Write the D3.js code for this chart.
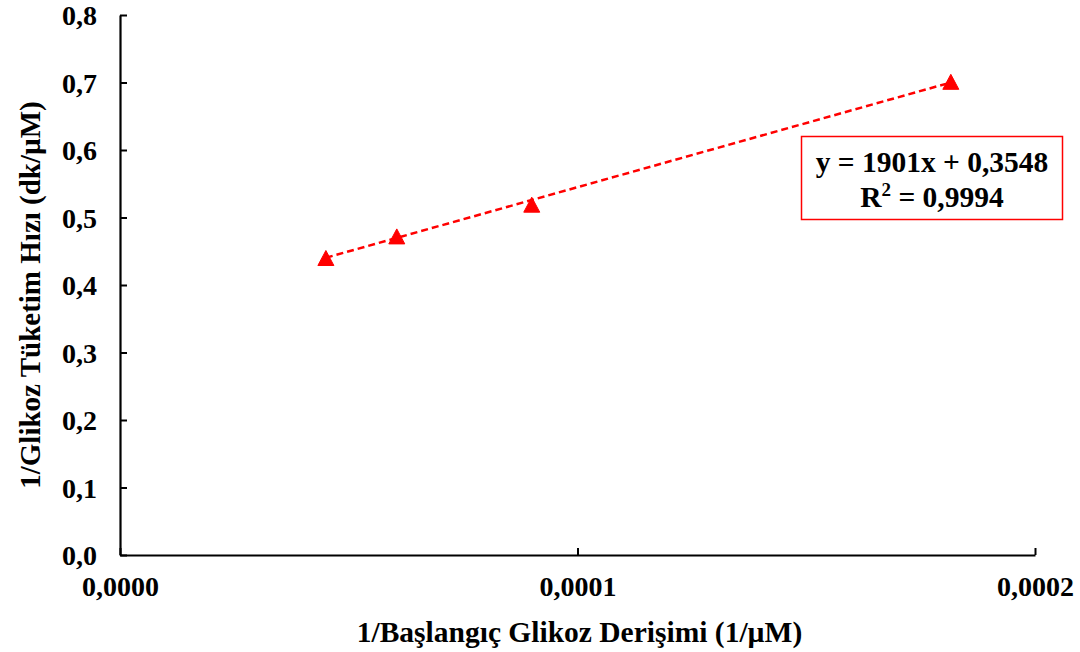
<!DOCTYPE html>
<html>
<head>
<meta charset="utf-8">
<script src="https://cdn.jsdelivr.net/npm/d3@7"></script>
<style>
  html, body { margin: 0; padding: 0; background: #fff; }
  svg text { font-family: "Liberation Serif", "Times New Roman", serif; font-weight: bold; fill: #000; }
</style>
</head>
<body>
<svg id="chart" width="1080" height="652"></svg>
<script>
// Reciprocal initial glucose concentration (1/µM) and reciprocal consumption rate (dk/µM)
const invConcentration = [0.0000450, 0.0000605, 0.0000900, 0.0001816];
const invRate = [0.440, 0.472, 0.519, 0.701];

// Linear fit reported for the data
const fitSlope = 1901;
const fitIntercept = 0.3548;
const fitR2 = "0,9994";

const xTicks = [0, 0.0001, 0.0002];
const yTicks = [0, 0.1, 0.2, 0.3, 0.4, 0.5, 0.6, 0.7, 0.8];

const xTitle = "1/Başlangıç Glikoz Derişimi (1/µM)";
const yTitle = "1/Glikoz Tüketim Hızı (dk/µM)";

const svg = d3.select("#chart");
const margin = { left: 120, right: 45, top: 15, bottom: 97 };
const W = 1080, H = 652;

const x = d3.scaleLinear().domain([0, 0.0002]).range([margin.left, W - margin.right]);
const y = d3.scaleLinear().domain([0, 0.8]).range([H - margin.bottom, margin.top]);

const fmt = (d, n) => d.toFixed(n).replace(".", ",");

// Axes with inward ticks
const xAxis = svg.append("g")
  .attr("transform", `translate(0,${y(0)})`)
  .call(d3.axisBottom(x).tickValues(xTicks).tickSize(-7).tickSizeOuter(0).tickFormat(d => fmt(d, 4)));
const yAxis = svg.append("g")
  .attr("transform", `translate(${x(0)},0)`)
  .call(d3.axisLeft(y).tickValues(yTicks).tickSize(-7).tickSizeOuter(0).tickFormat(d => fmt(d, 1)));

[xAxis, yAxis].forEach(g => {
  g.attr("font-size", null).attr("font-family", null);
  g.selectAll(".domain").attr("stroke", "#000").attr("stroke-width", 2.2);
  g.selectAll(".tick line").attr("stroke", "#000").attr("stroke-width", 2);
  g.selectAll(".tick text").style("font-size", "28px").attr("fill", "#000");
});
xAxis.selectAll(".tick text").attr("dy", 0).attr("y", 41);
yAxis.selectAll(".tick text").attr("x", -23).attr("dy", "0.35em");

// Axis titles
svg.append("text")
  .attr("x", x(0.0001) + 2).attr("y", 642)
  .attr("text-anchor", "middle")
  .style("font-size", "29.5px")
  .text(xTitle);
svg.append("text")
  .attr("transform", `translate(40,295) rotate(-90)`)
  .attr("text-anchor", "middle")
  .style("font-size", "29px")
  .text(yTitle);

// Trendline over the data range
const xMin = d3.min(invConcentration), xMax = d3.max(invConcentration);
svg.append("line")
  .attr("x1", x(xMin)).attr("y1", y(fitSlope * xMin + fitIntercept))
  .attr("x2", x(xMax)).attr("y2", y(fitSlope * xMax + fitIntercept))
  .attr("stroke", "#ff0000")
  .attr("stroke-width", 2.5)
  .attr("stroke-dasharray", "7,4");

// Triangle markers, centred on their bounding box
const triW = 16, triH = 15;
const triPath = `M0,${-triH / 2}L${triW / 2},${triH / 2}L${-triW / 2},${triH / 2}Z`;
svg.append("g").selectAll("path")
  .data(invConcentration.map((v, i) => [v, invRate[i]]))
  .join("path")
  .attr("d", triPath)
  .attr("transform", d => `translate(${x(d[0])},${y(d[1])})`)
  .attr("fill", "#ff0000")
  .attr("stroke", "#ff0000")
  .attr("stroke-width", 1)
  .attr("stroke-linejoin", "round");

// Equation box
const box = svg.append("g");
box.append("rect")
  .attr("x", 801.5).attr("y", 136.5).attr("width", 261).attr("height", 83)
  .attr("fill", "#fff").attr("stroke", "#ff0000").attr("stroke-width", 1.5);
box.append("text")
  .attr("x", 932).attr("y", 172)
  .attr("text-anchor", "middle")
  .style("font-size", "29.5px")
  .text(`y = ${fitSlope}x + ${fmt(fitIntercept, 4)}`);
const r2 = box.append("text")
  .attr("x", 932).attr("y", 207)
  .attr("text-anchor", "middle")
  .style("font-size", "29.5px");
r2.append("tspan").text("R");
r2.append("tspan").attr("dy", -11).style("font-size", "19px").text("2");
r2.append("tspan").attr("dy", 11).text(` = ${fitR2}`);
</script>
</body>
</html>
